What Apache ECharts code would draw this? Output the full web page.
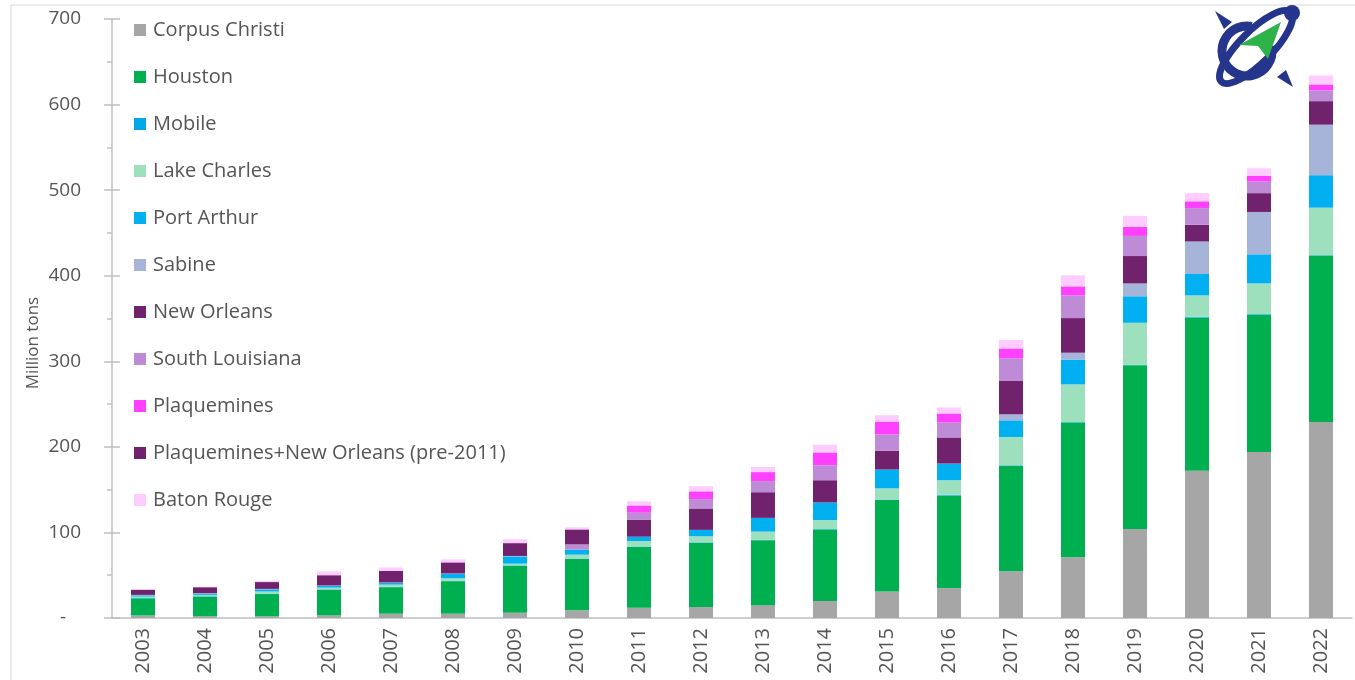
<!DOCTYPE html>
<html>
<head>
<meta charset="utf-8">
<script src="https://cdn.jsdelivr.net/npm/echarts@6/dist/echarts.min.js"></script>
<style>
  html, body { margin: 0; padding: 0; background: #ffffff; }
  #chart { width: 1355px; height: 680px; }
</style>
</head>
<body>
<div id="chart"></div>
<script>
// Gulf Coast port export volumes, million tons per year
const years = ['2003','2004','2005','2006','2007','2008','2009','2010','2011','2012',
               '2013','2014','2015','2016','2017','2018','2019','2020','2021','2022'];

const yTicks = [0, 100, 200, 300, 400, 500, 600, 700];

const corpusChristi = [3, 2, 2, 3, 5, 5, 6, 9, 12, 13, 15, 20, 31, 35, 54.5, 71, 104, 172, 194, 229];
const houston       = [20, 23, 26, 30, 31, 38, 55, 60, 71, 75, 76, 83.5, 107, 108, 123.5, 157.5, 191.5, 179, 160, 194.5];
const mobile        = [0.5, 0.5, 0.5, 0.5, 0.5, 0.5, 0.5, 0.5, 0.5, 0.5, 0.5, 0.5, 0.5, 1, 0.5, 0.5, 0.5, 1, 1, 0.5];
const lakeCharles   = [1.5, 1.5, 2.5, 2, 2.5, 3, 2, 4.5, 6.5, 7, 9.5, 10.5, 13, 17, 33, 44, 49, 25, 36, 55.5];
const portArthur    = [1.5, 1.5, 2.5, 2, 2, 5, 8.5, 6, 5, 7.5, 16, 20.5, 22, 19.5, 19.5, 29, 31, 25, 34, 38];
const sabine        = [0.5, 0.5, 0.5, 0.5, 0.5, 0.5, 0.5, 0, 0, 0, 0, 0, 0, 0, 7, 8, 15, 38, 49.5, 59];
const newOrleans    = [0, 0, 0, 0, 0, 0, 0, 0, 20, 25, 30, 26, 22, 30.5, 39.5, 40.5, 32, 19.5, 22, 27.5];
const southLouisiana= [0, 0, 0, 0, 0, 0, 0, 6, 8, 11, 13, 17.5, 19, 17.5, 26, 26.5, 23.5, 19.5, 13.5, 12.5];
const plaquemines   = [0, 0, 0, 0, 0, 0, 0, 0, 8.5, 9, 10.5, 15, 15, 10.5, 11.5, 10.5, 10.5, 8, 6.5, 7];
const plaqNewOrlPre = [6, 7, 8, 12, 13.5, 13, 15, 17.5, 0, 0, 0, 0, 0, 0, 0, 0, 0, 0, 0, 0];
const batonRouge    = [0.5, 0.5, 1.5, 4.5, 4, 3.5, 4.5, 2.5, 5, 6, 6, 9, 7.5, 7, 10, 13, 13, 9.5, 9, 10.5];

const seriesNames = ['Corpus Christi', 'Houston', 'Mobile', 'Lake Charles', 'Port Arthur', 'Sabine',
                     'New Orleans', 'South Louisiana', 'Plaquemines',
                     'Plaquemines+New Orleans (pre-2011)', 'Baton Rouge'];
const seriesValues = [corpusChristi, houston, mobile, lakeCharles, portArthur, sabine,
                      newOrleans, southLouisiana, plaquemines, plaqNewOrlPre, batonRouge];
const seriesColors = ['#A6A6A6', '#00B050', '#00A8E8', '#9DE0BE', '#00B0F0', '#A6B4DA',
                      '#70226D', '#BE8CD6', '#FF40FF', '#70226D', '#FFCCFF'];

const FONT = '"Open Sans", "DejaVu Sans", sans-serif';
const TEXT = '#555555';
const AXIS = '#BFBFBF';

const chart = echarts.init(document.getElementById('chart'), null, { renderer: 'canvas' });

const series = seriesNames.map((name, i) => ({
  name: name,
  type: 'bar',
  stack: 'ports',
  barWidth: 24,
  data: seriesValues[i],
  itemStyle: { color: seriesColors[i] },
  emphasis: { disabled: true }
}));

const NAVY = '#26358C';

chart.setOption({
  animation: false,
  backgroundColor: '#ffffff',
  textStyle: { fontFamily: FONT },
  grid: { left: 112, right: 3, top: 19, bottom: 62, containLabel: false },
  legend: {
    orient: 'vertical',
    left: 129,
    top: 15,
    itemWidth: 12,
    itemHeight: 12,
    itemGap: 27,
    icon: 'rect',
    selectedMode: false,
    data: seriesNames,
    textStyle: { fontFamily: FONT, fontSize: 20, color: TEXT, lineHeight: 20, padding: [0, 0, 0, 2] }
  },
  xAxis: {
    type: 'category',
    data: years,
    axisLine: { show: true, lineStyle: { color: AXIS, width: 1.5 } },
    axisTick: { show: false },
    axisLabel: { rotate: 90, fontSize: 20, color: TEXT, margin: 10, fontFamily: FONT },
    splitLine: { show: false }
  },
  yAxis: [
    {
      type: 'value',
      min: yTicks[0],
      max: yTicks[yTicks.length - 1],
      interval: yTicks[1] - yTicks[0],
      axisLine: { show: true, lineStyle: { color: AXIS, width: 1.5 } },
      axisTick: { show: true, length: 8, lineStyle: { color: AXIS, width: 1.5 } },
      minorTick: { show: true, splitNumber: 2, length: 5, lineStyle: { color: AXIS, width: 1.5 } },
      axisLabel: {
        fontSize: 19, color: TEXT, margin: 31, fontFamily: FONT,
        formatter: v => (v === 0 ? '-   ' : String(v))
      },
      splitLine: { show: false }
    },
    {
      // second copy of the value scale, drawing the inner half of the major ticks
      type: 'value',
      position: 'left',
      offset: 0,
      min: yTicks[0],
      max: yTicks[yTicks.length - 1],
      interval: yTicks[1] - yTicks[0],
      axisLine: { show: false },
      axisTick: { show: true, inside: true, length: 8, lineStyle: { color: AXIS, width: 1.5 } },
      axisLabel: { show: false },
      splitLine: { show: false }
    }
  ],
  graphic: [
    {
      type: 'rect', silent: true, z: 0,
      shape: { x: 11, y: 5, width: 1400, height: 720 },
      style: { fill: 'none', stroke: '#D9D9D9', lineWidth: 1 }
    },
    {
      // value-axis title
      type: 'text', silent: true, z: 10,
      x: 33, y: 343, rotation: Math.PI / 2,
      style: { text: 'Million tons', fontSize: 17, fontFamily: FONT, fill: TEXT,
               align: 'center', verticalAlign: 'middle' }
    },
    {
      type: 'group', silent: true, z: 100,
      children: [
        { type: 'arc', shape: { cx: 1247, cy: 51, r: 25, startAngle: -0.2, endAngle: 4.9, clockwise: true },
          style: { stroke: NAVY, lineWidth: 9, fill: 'none' } },
        { type: 'ellipse', x: 1256, y: 47, rotation: Math.PI / 4,
          shape: { cx: 0, cy: 0, rx: 49, ry: 16 },
          style: { stroke: NAVY, lineWidth: 7, fill: 'none' } },
        { type: 'circle', shape: { cx: 1292, cy: 13, r: 8 }, style: { fill: NAVY } },
        { type: 'polygon', shape: { points: [[1215, 11], [1232, 22], [1224, 29]] }, style: { fill: NAVY } },
        { type: 'polygon', shape: { points: [[1293, 87], [1277, 77], [1286, 70]] }, style: { fill: NAVY } },
        { type: 'polygon', shape: { points: [[1281, 22], [1239, 45], [1258, 46], [1268, 59]] }, style: { fill: '#2DB34A' } }
      ]
    }
  ],
  series: series
});
</script>
</body>
</html>
